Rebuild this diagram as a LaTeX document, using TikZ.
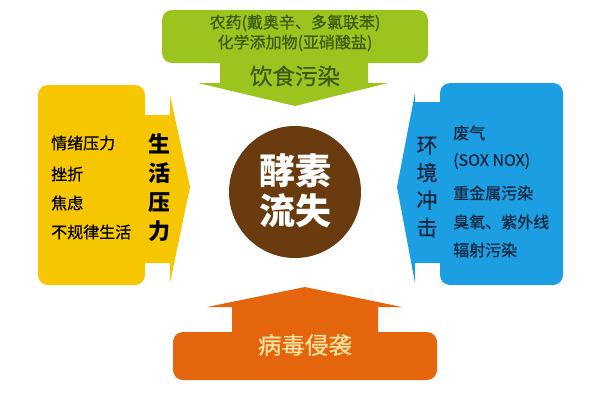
\documentclass[tikz,border=0pt]{standalone}
\usepackage{fontspec}
\setmainfont{Noto Sans CJK SC}
\newfontfamily\medfont[FakeBold=0.6]{Noto Sans CJK SC}
\definecolor{cgreen}{HTML}{9CC41E}
\definecolor{cyellow}{HTML}{F6C600}
\definecolor{cblue}{HTML}{1C9FE2}
\definecolor{corange}{HTML}{E5650C}
\definecolor{cbrown}{HTML}{6A3B0E}
\definecolor{tgreen}{HTML}{3B5A12}
\definecolor{tblue}{HTML}{18263E}
\definecolor{tcream}{HTML}{F6E3A2}
\tikzset{
  item/.style={anchor=west, font=\medfont\fontsize{16}{18}\selectfont, inner sep=0pt},
  vtitle/.style={font=\fontsize{22}{29}\selectfont\bfseries, align=center, inner sep=0pt},
}
\begin{document}
\begin{tikzpicture}[x=1pt,y=-1pt]
\useasboundingbox (0,0) rectangle (600,400);
% green (top)
\fill[cgreen, rounded corners=10pt] (162,10) rectangle (428,63);
\fill[cgreen] (220,55) -- (368,55) -- (368,83) -- (388,83) -- (295,106) -- (198,83) -- (220,83) -- cycle;
% yellow (left)
\fill[cyellow, rounded corners=10pt] (38,85) rectangle (145,285);
\fill[cyellow] (138,115) -- (170,115) -- (170,95) -- (190,187) -- (170,283) -- (170,263) -- (138,263) -- cycle;
% blue (right)
\fill[cblue, rounded corners=10pt] (440,83) rectangle (563,285);
\fill[cblue] (447,102) -- (415,102) -- (415,93) -- (397,187) -- (415,283) -- (415,263) -- (447,263) -- cycle;
% orange (bottom)
\fill[corange, rounded corners=10pt] (173,332) rectangle (437,380);
\fill[corange] (232,340) -- (232,307) -- (207,307) -- (305,287) -- (402,307) -- (378,307) -- (378,340) -- cycle;
% centre circle
\node[circle, fill=cbrown, minimum size=132pt, inner sep=0pt] (c) at (295,192) {};
\node[text=white, font=\fontsize{36}{40}\selectfont\bfseries, align=center] (ct) at (295,191) {酵素\\流失};
% top texts
\node[text=tgreen, font=\medfont\fontsize{16}{20}\selectfont, align=center] (t1) at (295,33) {农药(戴奥辛、多氯联苯)\\化学添加物(亚硝酸盐)};
\node[text=tgreen, font=\medfont\fontsize{22.5}{24}\selectfont] (t2) at (295,76) {饮食污染};
% left texts
\node[item] (l1) at (51,143) {情绪压力};
\node[item] (l2) at (51,174) {挫折};
\node[item] (l3) at (51,203) {焦虑};
\node[item] (l4) at (51,232) {不规律生活};
\node[vtitle] (lt) at (159,188) {生\\活\\压\\力};
% right texts
\node[text=tblue, font=\medfont\fontsize{21}{27.5}\selectfont, align=center, inner sep=0pt] (rt) at (427,187) {环\\境\\冲\\击};
\node[item, text=tblue] (r1) at (453,133) {废气};
\node[item, text=tblue] (r2) at (453,161) {(SOX NOX)};
\node[item, text=tblue] (r3) at (453,193) {重金属污染};
\node[item, text=tblue] (r4) at (453,222) {臭氧、紫外线};
\node[item, text=tblue] (r5) at (453,250) {辐射污染};
% bottom text
\node[text=tcream, font=\medfont\fontsize{23.5}{26}\selectfont] (b) at (305,345) {病毒侵袭};
\end{tikzpicture}
\end{document}
